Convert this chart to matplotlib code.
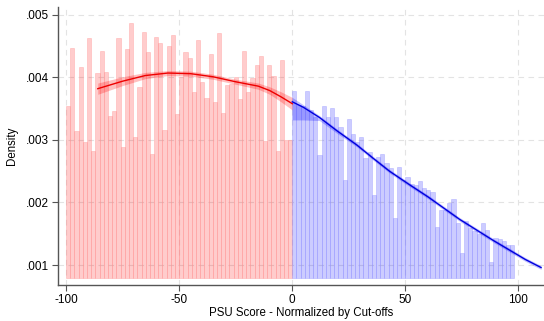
import numpy as np
import matplotlib
matplotlib.use("Agg")
import matplotlib.pyplot as plt

plt.rcParams['font.family'] = ['Liberation Sans', 'DejaVu Sans']

# ---- data ----
red_heights = [0.00355, 0.00447, 0.00314, 0.00417, 0.00297, 0.00463, 0.00282, 0.00407, 0.00443,
               0.00409, 0.00339, 0.00347, 0.00463, 0.00289, 0.00445, 0.00487, 0.00305, 0.00384,
               0.00472, 0.00441, 0.00278, 0.00464, 0.00455, 0.00316, 0.00451, 0.00468, 0.00342,
               0.00400, 0.00440, 0.00431, 0.00377, 0.00460, 0.00393, 0.00367, 0.00438, 0.00360,
               0.00471, 0.00343, 0.00388, 0.00389, 0.00401, 0.00366, 0.00443, 0.00377, 0.00399,
               0.00420, 0.00434, 0.00299, 0.00420, 0.00403, 0.00283, 0.00428, 0.00300, 0.00300]
blue_heights = [0.00379, 0.00356, 0.00355, 0.00379, 0.00348, 0.00337, 0.00276, 0.00355, 0.00337,
                0.00351, 0.00337, 0.00321, 0.00236, 0.00333, 0.00310, 0.00297, 0.00305, 0.00271,
                0.00280, 0.00212, 0.00272, 0.00277, 0.00263, 0.00255, 0.00175, 0.00257, 0.00236,
                0.00240, 0.00230, 0.00228,
                0.00235, 0.00223, 0.00220, 0.00217, 0.00161, 0.00188, 0.00188, 0.00199, 0.00205,
                0.00168, 0.00120, 0.00170, 0.00160, 0.00155, 0.00150, 0.00167, 0.00156, 0.00105,
                0.00143, 0.00142, 0.00138, 0.00132, 0.00132]
red_start, red_end = -100.0, 0.0
bar_base = 0.0008

red_fit_x = [-86, -75, -65, -55, -45, -35, -25, -15, -10, -5, 0]
red_fit_y = [0.00382, 0.00394, 0.00403, 0.00407, 0.00406, 0.00401, 0.00393, 0.00386, 0.00379, 0.00369, 0.00358]
red_fit_se = [0.00009, 0.00007, 0.00005, 0.00004, 0.00004, 0.00004, 0.00004, 0.00005, 0.00006, 0.00008, 0.00010]

blue_fit_x = [0, 5, 12, 20, 28.5, 36, 43, 52, 60, 67, 74, 81.5, 89, 96, 103, 110]
blue_fit_y = [0.00361, 0.00352, 0.00336, 0.00314, 0.00292, 0.00270, 0.00250, 0.00228, 0.00209,
              0.00191, 0.00173, 0.00156, 0.00139, 0.00124, 0.00109, 0.00096]
blue_fit_lo = [0.00332, 0.00332, 0.00331, 0.00310, 0.00289, 0.00267, 0.00247, 0.00225, 0.00206,
               0.00188, 0.00170, 0.00153, 0.00136, 0.00121, 0.00106, 0.00093]
blue_fit_hi = [0.00368, 0.00356, 0.00339, 0.00317, 0.00295, 0.00273, 0.00253, 0.00231, 0.00212,
               0.00194, 0.00176, 0.00159, 0.00142, 0.00127, 0.00112, 0.00099]

xticks = [-100, -50, 0, 50, 100]
xtick_labels = ['-100', '-50', '0', '50', '100']
yticks = [0.001, 0.002, 0.003, 0.004, 0.005]
ytick_labels = ['.001', '.002', '.003', '.004', '.005']

# ---- figure ----
fig = plt.figure(figsize=(5.44, 3.21), dpi=100)
ax = fig.add_axes([0.107, 0.112, 0.893, 0.867])

w_bin = (red_end - red_start) / len(red_heights)
red_left = red_start + w_bin * np.arange(len(red_heights))
blue_left = red_end + w_bin * np.arange(len(blue_heights))

ax.bar(red_left, np.array(red_heights) - bar_base, width=w_bin, bottom=bar_base, align='edge',
       facecolor=(1, 0, 0, 0.2), edgecolor=(1, 0.6, 0.6, 0.45), linewidth=0.6, zorder=2)
ax.bar(blue_left, np.array(blue_heights) - bar_base, width=w_bin, bottom=bar_base, align='edge',
       facecolor=(0, 0, 1, 0.2), edgecolor=(0.6, 0.6, 1, 0.45), linewidth=0.6, zorder=2)

rx = np.array(red_fit_x); ry = np.array(red_fit_y); rse = np.array(red_fit_se)
ax.fill_between(rx, ry - rse, ry + rse, color=(1, 0, 0, 0.25), lw=0, zorder=3)
ax.plot(rx, ry, color='#ee0000', lw=1.0, zorder=4)

ax.fill_between(blue_fit_x, blue_fit_lo, blue_fit_hi, color=(0, 0, 1, 0.25), lw=0, zorder=3)
ax.plot(blue_fit_x, blue_fit_y, color='#0000dd', lw=1.0, zorder=4)

ax.set_xlim(-103.5, 111.3)
ax.set_ylim(0.00068, 0.00513)
ax.set_xticks(xticks)
ax.set_xticklabels(xtick_labels)
ax.set_yticks(yticks)
ax.set_yticklabels(ytick_labels)
ax.grid(True, color='#e3e3e3', linestyle=(0, (5, 4)), linewidth=0.8, zorder=0)
ax.set_axisbelow(True)
for s in ['top', 'right']:
    ax.spines[s].set_visible(False)
for s in ['left', 'bottom']:
    ax.spines[s].set_color('#555555')
    ax.spines[s].set_linewidth(1.0)
ax.tick_params(axis='both', colors='#555555', labelcolor='black', labelsize=8.5, length=4, width=0.8, pad=2.5)
ax.set_xlabel('PSU Score - Normalized by Cut-offs', fontsize=8.3, labelpad=1)
ax.set_ylabel('Density', fontsize=8.3, labelpad=6)

fig.savefig('out.png', dpi=100)
